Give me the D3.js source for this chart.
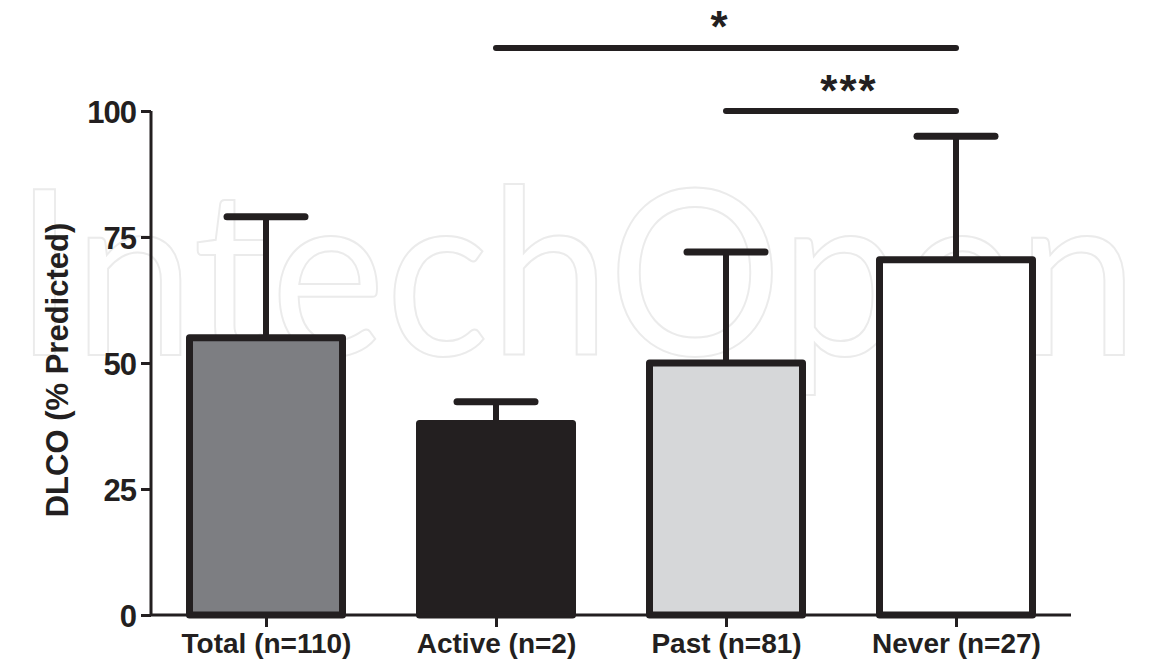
<!DOCTYPE html>
<html>
<head>
<meta charset="utf-8">
<script src="https://cdn.jsdelivr.net/npm/d3@7"></script>
<style>
  html, body { margin: 0; padding: 0; background: #ffffff; }
  svg { display: block; }
</style>
</head>
<body>
<svg id="chart" width="1151" height="663"></svg>
<script>
// ---- data ----
const categories = ["Total (n=110)", "Active (n=2)", "Past (n=81)", "Never (n=27)"];
const means = [55, 38, 50, 70.5];
const upperSD = [79, 42.3, 72, 95];
const barFills = ["#7d7e82", "#231f20", "#d6d7d9", "#ffffff"];
const yTicks = [0, 25, 50, 75, 100];
const yTitle = "DLCO (% Predicted)";
const comparisons = [
  { from: "Active (n=2)", to: "Never (n=27)", label: "*", level: 0 },
  { from: "Past (n=81)", to: "Never (n=27)", label: "***", level: 1 }
];
const watermark = "IntechOpen";

// ---- layout ----
const svg = d3.select("#chart");
const ink = "#231f20";
const font = "'Liberation Sans', Arial, sans-serif";
const x = d3.scalePoint().domain(categories).range([151, 1071]).padding(0.5);
const y = d3.scaleLinear().domain([0, 100]).range([615, 111]);
const barW = 153;

// watermark (behind everything)
svg.append("text")
  .attr("x", 14).attr("y", 355)
  .attr("textLength", 1124).attr("lengthAdjust", "spacingAndGlyphs")
  .style("font-family", "Lato, 'Open Sans', sans-serif")
  .style("font-weight", 400)
  .style("font-size", "232px")
  .attr("fill", "none").attr("stroke", "#ebebeb").attr("stroke-width", 2)
  .text(watermark);

const data = categories.map((c, i) => ({ c, m: means[i], u: upperSD[i], f: barFills[i] }));

// error bars
const eb = svg.append("g");
eb.selectAll("line.stem").data(data).join("line")
  .attr("x1", d => x(d.c)).attr("x2", d => x(d.c))
  .attr("y1", d => y(d.m)).attr("y2", d => y(d.u))
  .attr("stroke", ink).attr("stroke-width", 6);
eb.selectAll("line.cap").data(data).join("line")
  .attr("x1", d => x(d.c) - 39).attr("x2", d => x(d.c) + 39)
  .attr("y1", d => y(d.u)).attr("y2", d => y(d.u))
  .attr("stroke", ink).attr("stroke-width", 7).attr("stroke-linecap", "round");

// bars
svg.append("g").selectAll("rect").data(data).join("rect")
  .attr("x", d => x(d.c) - barW / 2)
  .attr("width", barW)
  .attr("y", d => y(d.m))
  .attr("height", d => y(0) - y(d.m))
  .attr("fill", d => d.f)
  .attr("stroke", ink).attr("stroke-width", 7).attr("stroke-linejoin", "round");

// y axis
const yAxis = svg.append("g").attr("transform", "translate(151,0)")
  .call(d3.axisLeft(y).tickValues(yTicks).tickSize(10).tickPadding(5).tickFormat(d3.format("d")));
yAxis.select(".domain").attr("d", `M0,${y(0)}V${y(100)}`).attr("stroke", ink).attr("stroke-width", 3);
yAxis.selectAll(".tick line").attr("stroke", ink).attr("stroke-width", 3);
yAxis.selectAll(".tick text")
  .style("font-family", font)
  .style("font-weight", "bold").style("font-size", "31px")
  .attr("fill", ink).attr("dy", "0.36em").attr("letter-spacing", "-1px");

// x axis
const xAxis = svg.append("g").attr("transform", `translate(0,${y(0)})`)
  .call(d3.axisBottom(x).tickSize(12).tickPadding(11));
xAxis.select(".domain").attr("d", "M150,0H1071").attr("stroke", ink).attr("stroke-width", 3);
xAxis.selectAll(".tick line").attr("stroke", ink).attr("stroke-width", 3);
xAxis.selectAll(".tick text")
  .style("font-family", font)
  .style("font-weight", "bold").style("font-size", "28px")
  .attr("fill", ink).attr("dy", "0.55em");

// y title
svg.append("text")
  .attr("transform", "translate(68,370) rotate(-90)")
  .attr("text-anchor", "middle")
  .style("font-family", font)
  .style("font-weight", "bold").style("font-size", "31px")
  .attr("fill", ink)
  .text(yTitle);

// significance brackets
const levelY = [48, 111];
const labelY = [42, 106];
const labelDx = [-6, 8];
const sig = svg.append("g");
sig.selectAll("line").data(comparisons).join("line")
  .attr("x1", d => x(d.from)).attr("x2", d => x(d.to))
  .attr("y1", d => levelY[d.level]).attr("y2", d => levelY[d.level])
  .attr("stroke", ink).attr("stroke-width", 6).attr("stroke-linecap", "round");
sig.selectAll("text").data(comparisons).join("text")
  .attr("x", d => (x(d.from) + x(d.to)) / 2 + labelDx[d.level])
  .attr("y", d => labelY[d.level])
  .attr("text-anchor", "middle")
  .attr("letter-spacing", "2px")
  .style("font-family", font)
  .style("font-weight", "bold").style("font-size", "44px")
  .attr("fill", ink)
  .text(d => d.label);
</script>
</body>
</html>
